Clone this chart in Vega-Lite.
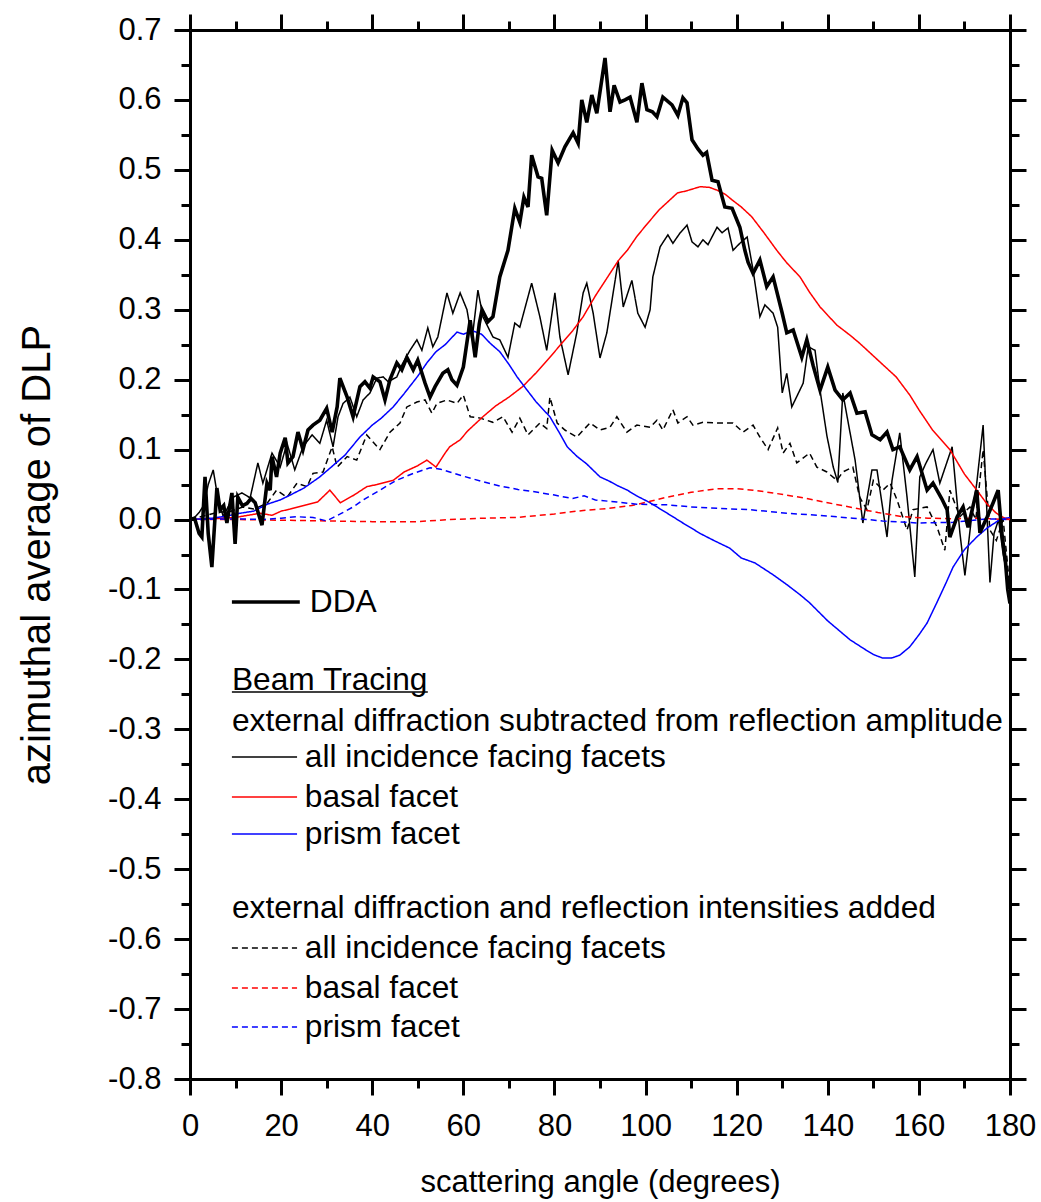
{
"$schema": "https://vega.github.io/schema/vega-lite/v6.json",
"width": 820, "height": 1049,
"autosize": {"type": "none"},
"padding": {"left": 190, "top": 30, "right": 31, "bottom": 123},
"background": "white",
"config": {"view": {"stroke": null}, "font": "Liberation Sans",
 "axis": {"domainColor": "black", "domainWidth": 3, "tickColor": "black", "tickWidth": 3, "labelColor": "black", "labelFont": "Liberation Sans", "labelFontSize": 31, "titleFont": "Liberation Sans", "titleFontSize": 31, "titleFontWeight": "normal", "titleColor": "black", "grid": false, "labelOverlap": false, "labelFlush": false}},
"datasets": {
"curves": [
{"s":"DDA","x":0,"y":0},{"s":"DDA","x":1,"y":0.002},{"s":"DDA","x":2,"y":-0.02},{"s":"DDA","x":2.6,"y":-0.025},{"s":"DDA","x":3.3,"y":0.061},{"s":"DDA","x":4.0,"y":-0.02},{"s":"DDA","x":4.8,"y":-0.068},{"s":"DDA","x":5.9,"y":0.045},{"s":"DDA","x":6.6,"y":0.014},{"s":"DDA","x":7.4,"y":0.02},{"s":"DDA","x":8.1,"y":-0.005},{"s":"DDA","x":9.2,"y":0.038},{"s":"DDA","x":9.9,"y":-0.035},{"s":"DDA","x":10.5,"y":0.032},{"s":"DDA","x":11.5,"y":0.02},{"s":"DDA","x":12.5,"y":0.023},{"s":"DDA","x":13.4,"y":0.03},{"s":"DDA","x":14.3,"y":0.024},{"s":"DDA","x":15.8,"y":-0.008},{"s":"DDA","x":16.9,"y":0.052},{"s":"DDA","x":17.6,"y":0.042},{"s":"DDA","x":18,"y":0.09},{"s":"DDA","x":19,"y":0.061},{"s":"DDA","x":19.8,"y":0.095},{"s":"DDA","x":20.9,"y":0.117},{"s":"DDA","x":21.5,"y":0.081},{"s":"DDA","x":22.6,"y":0.09},{"s":"DDA","x":23.7,"y":0.125},{"s":"DDA","x":24.8,"y":0.1},{"s":"DDA","x":25.9,"y":0.128},{"s":"DDA","x":27,"y":0.135},{"s":"DDA","x":28.5,"y":0.142},{"s":"DDA","x":30,"y":0.159},{"s":"DDA","x":31.2,"y":0.125},{"s":"DDA","x":32.3,"y":0.161},{"s":"DDA","x":32.9,"y":0.202},{"s":"DDA","x":34.5,"y":0.175},{"s":"DDA","x":35.8,"y":0.147},{"s":"DDA","x":37.3,"y":0.19},{"s":"DDA","x":38.4,"y":0.197},{"s":"DDA","x":39.5,"y":0.188},{"s":"DDA","x":40.2,"y":0.204},{"s":"DDA","x":41.7,"y":0.197},{"s":"DDA","x":42.8,"y":0.171},{"s":"DDA","x":43.9,"y":0.2},{"s":"DDA","x":45.4,"y":0.224},{"s":"DDA","x":46.5,"y":0.214},{"s":"DDA","x":47.6,"y":0.232},{"s":"DDA","x":49,"y":0.214},{"s":"DDA","x":50,"y":0.228},{"s":"DDA","x":51.6,"y":0.195},{"s":"DDA","x":52.7,"y":0.175},{"s":"DDA","x":53.8,"y":0.19},{"s":"DDA","x":55.5,"y":0.209},{"s":"DDA","x":56.6,"y":0.214},{"s":"DDA","x":57.5,"y":0.2},{"s":"DDA","x":58.6,"y":0.192},{"s":"DDA","x":60,"y":0.218},{"s":"DDA","x":61.5,"y":0.285},{"s":"DDA","x":62.6,"y":0.232},{"s":"DDA","x":63.5,"y":0.28},{"s":"DDA","x":64.1,"y":0.3},{"s":"DDA","x":65.4,"y":0.283},{"s":"DDA","x":66.5,"y":0.29},{"s":"DDA","x":68,"y":0.347},{"s":"DDA","x":69.8,"y":0.385},{"s":"DDA","x":71.3,"y":0.445},{"s":"DDA","x":72.4,"y":0.425},{"s":"DDA","x":73.3,"y":0.461},{"s":"DDA","x":74.2,"y":0.447},{"s":"DDA","x":75,"y":0.521},{"s":"DDA","x":76.4,"y":0.49},{"s":"DDA","x":77.2,"y":0.488},{"s":"DDA","x":78.3,"y":0.435},{"s":"DDA","x":79.5,"y":0.528},{"s":"DDA","x":80.8,"y":0.51},{"s":"DDA","x":82.3,"y":0.533},{"s":"DDA","x":84.1,"y":0.553},{"s":"DDA","x":85.2,"y":0.538},{"s":"DDA","x":86,"y":0.6},{"s":"DDA","x":87.1,"y":0.568},{"s":"DDA","x":88.2,"y":0.607},{"s":"DDA","x":89.3,"y":0.581},{"s":"DDA","x":91.1,"y":0.66},{"s":"DDA","x":92.2,"y":0.583},{"s":"DDA","x":93.1,"y":0.621},{"s":"DDA","x":94.4,"y":0.597},{"s":"DDA","x":95.5,"y":0.6},{"s":"DDA","x":96.6,"y":0.604},{"s":"DDA","x":98.1,"y":0.568},{"s":"DDA","x":99.2,"y":0.624},{"s":"DDA","x":100.3,"y":0.586},{"s":"DDA","x":101.5,"y":0.583},{"s":"DDA","x":102.5,"y":0.576},{"s":"DDA","x":103.8,"y":0.604},{"s":"DDA","x":105.8,"y":0.593},{"s":"DDA","x":107.1,"y":0.578},{"s":"DDA","x":108.2,"y":0.603},{"s":"DDA","x":109.1,"y":0.596},{"s":"DDA","x":110.2,"y":0.543},{"s":"DDA","x":111.5,"y":0.53},{"s":"DDA","x":112.6,"y":0.521},{"s":"DDA","x":113.4,"y":0.525},{"s":"DDA","x":114.6,"y":0.485},{"s":"DDA","x":115.9,"y":0.483},{"s":"DDA","x":117.4,"y":0.447},{"s":"DDA","x":119,"y":0.445},{"s":"DDA","x":120.7,"y":0.418},{"s":"DDA","x":121.8,"y":0.385},{"s":"DDA","x":122.5,"y":0.368},{"s":"DDA","x":123.6,"y":0.352},{"s":"DDA","x":125.1,"y":0.371},{"s":"DDA","x":126.6,"y":0.333},{"s":"DDA","x":128,"y":0.347},{"s":"DDA","x":130,"y":0.295},{"s":"DDA","x":131,"y":0.267},{"s":"DDA","x":132.4,"y":0.271},{"s":"DDA","x":134.3,"y":0.232},{"s":"DDA","x":135.4,"y":0.257},{"s":"DDA","x":136.8,"y":0.22},{"s":"DDA","x":138.3,"y":0.185},{"s":"DDA","x":140,"y":0.218},{"s":"DDA","x":141.6,"y":0.185},{"s":"DDA","x":143.3,"y":0.171},{"s":"DDA","x":144.9,"y":0.181},{"s":"DDA","x":146.4,"y":0.152},{"s":"DDA","x":148.2,"y":0.154},{"s":"DDA","x":149.7,"y":0.121},{"s":"DDA","x":151.5,"y":0.114},{"s":"DDA","x":153,"y":0.125},{"s":"DDA","x":154.3,"y":0.1},{"s":"DDA","x":155.8,"y":0.104},{"s":"DDA","x":158,"y":0.071},{"s":"DDA","x":159.6,"y":0.09},{"s":"DDA","x":161.8,"y":0.042},{"s":"DDA","x":163.1,"y":0.052},{"s":"DDA","x":165,"y":0.03},{"s":"DDA","x":166.2,"y":0.014},{"s":"DDA","x":166.8,"y":-0.025},{"s":"DDA","x":168.4,"y":0.004},{"s":"DDA","x":169.7,"y":0.018},{"s":"DDA","x":170.8,"y":-0.011},{"s":"DDA","x":172.7,"y":0.042},{"s":"DDA","x":173.4,"y":-0.019},{"s":"DDA","x":175,"y":0.004},{"s":"DDA","x":176.3,"y":0.024},{"s":"DDA","x":177.4,"y":0.042},{"s":"DDA","x":178.2,"y":-0.019},{"s":"DDA","x":179,"y":-0.06},{"s":"DDA","x":179.5,"y":-0.1},{"s":"DDA","x":180,"y":-0.12},
{"s":"all_sub","x":0,"y":0},{"s":"all_sub","x":1,"y":0.003},{"s":"all_sub","x":2,"y":0.01},{"s":"all_sub","x":3,"y":0.02},{"s":"all_sub","x":4,"y":0.05},{"s":"all_sub","x":5.1,"y":0.071},{"s":"all_sub","x":6,"y":0.035},{"s":"all_sub","x":7.3,"y":0.004},{"s":"all_sub","x":8.5,"y":0.02},{"s":"all_sub","x":9.5,"y":0.032},{"s":"all_sub","x":11.4,"y":0.038},{"s":"all_sub","x":13.2,"y":0.031},{"s":"all_sub","x":14.9,"y":0.081},{"s":"all_sub","x":16,"y":0.052},{"s":"all_sub","x":18,"y":0.095},{"s":"all_sub","x":19.8,"y":0.075},{"s":"all_sub","x":21.3,"y":0.109},{"s":"all_sub","x":23,"y":0.071},{"s":"all_sub","x":24.8,"y":0.104},{"s":"all_sub","x":26.8,"y":0.121},{"s":"all_sub","x":28.5,"y":0.109},{"s":"all_sub","x":30,"y":0.142},{"s":"all_sub","x":31.4,"y":0.104},{"s":"all_sub","x":32.5,"y":0.147},{"s":"all_sub","x":33.6,"y":0.166},{"s":"all_sub","x":35.1,"y":0.175},{"s":"all_sub","x":36.6,"y":0.147},{"s":"all_sub","x":38,"y":0.171},{"s":"all_sub","x":39.5,"y":0.181},{"s":"all_sub","x":41,"y":0.202},{"s":"all_sub","x":42.4,"y":0.204},{"s":"all_sub","x":43.5,"y":0.197},{"s":"all_sub","x":45.4,"y":0.204},{"s":"all_sub","x":46.5,"y":0.221},{"s":"all_sub","x":48.3,"y":0.242},{"s":"all_sub","x":49.8,"y":0.257},{"s":"all_sub","x":50.9,"y":0.242},{"s":"all_sub","x":52.2,"y":0.274},{"s":"all_sub","x":53.3,"y":0.247},{"s":"all_sub","x":54.4,"y":0.261},{"s":"all_sub","x":56.4,"y":0.324},{"s":"all_sub","x":57.7,"y":0.295},{"s":"all_sub","x":59.3,"y":0.324},{"s":"all_sub","x":60.8,"y":0.3},{"s":"all_sub","x":61.9,"y":0.257},{"s":"all_sub","x":63.2,"y":0.328},{"s":"all_sub","x":64.3,"y":0.29},{"s":"all_sub","x":66.5,"y":0.261},{"s":"all_sub","x":68,"y":0.257},{"s":"all_sub","x":69.8,"y":0.232},{"s":"all_sub","x":71.3,"y":0.281},{"s":"all_sub","x":72.4,"y":0.275},{"s":"all_sub","x":75,"y":0.338},{"s":"all_sub","x":76.8,"y":0.29},{"s":"all_sub","x":78.3,"y":0.242},{"s":"all_sub","x":80.1,"y":0.324},{"s":"all_sub","x":81.2,"y":0.261},{"s":"all_sub","x":83,"y":0.207},{"s":"all_sub","x":84.9,"y":0.267},{"s":"all_sub","x":86.3,"y":0.324},{"s":"all_sub","x":87.1,"y":0.338},{"s":"all_sub","x":88.5,"y":0.295},{"s":"all_sub","x":90,"y":0.231},{"s":"all_sub","x":91.5,"y":0.267},{"s":"all_sub","x":94,"y":0.37},{"s":"all_sub","x":95.1,"y":0.304},{"s":"all_sub","x":97,"y":0.342},{"s":"all_sub","x":98.3,"y":0.295},{"s":"all_sub","x":99.9,"y":0.275},{"s":"all_sub","x":101,"y":0.3},{"s":"all_sub","x":101.6,"y":0.347},{"s":"all_sub","x":103.2,"y":0.39},{"s":"all_sub","x":104.9,"y":0.407},{"s":"all_sub","x":106,"y":0.395},{"s":"all_sub","x":107.6,"y":0.41},{"s":"all_sub","x":109.1,"y":0.421},{"s":"all_sub","x":110.2,"y":0.397},{"s":"all_sub","x":111.5,"y":0.39},{"s":"all_sub","x":112.6,"y":0.4},{"s":"all_sub","x":113.7,"y":0.393},{"s":"all_sub","x":115.7,"y":0.418},{"s":"all_sub","x":116.8,"y":0.41},{"s":"all_sub","x":118.1,"y":0.417},{"s":"all_sub","x":119.2,"y":0.385},{"s":"all_sub","x":120.7,"y":0.395},{"s":"all_sub","x":122.3,"y":0.404},{"s":"all_sub","x":123.6,"y":0.357},{"s":"all_sub","x":125.1,"y":0.29},{"s":"all_sub","x":126.2,"y":0.307},{"s":"all_sub","x":128,"y":0.295},{"s":"all_sub","x":129,"y":0.275},{"s":"all_sub","x":130,"y":0.181},{"s":"all_sub","x":131,"y":0.209},{"s":"all_sub","x":132.1,"y":0.161},{"s":"all_sub","x":134.6,"y":0.195},{"s":"all_sub","x":135.7,"y":0.247},{"s":"all_sub","x":137.2,"y":0.242},{"s":"all_sub","x":138.3,"y":0.185},{"s":"all_sub","x":139.8,"y":0.12},{"s":"all_sub","x":141.2,"y":0.075},{"s":"all_sub","x":142.2,"y":0.053},{"s":"all_sub","x":143.3,"y":0.181},{"s":"all_sub","x":144.5,"y":0.138},{"s":"all_sub","x":146,"y":0.085},{"s":"all_sub","x":147.7,"y":-0.005},{"s":"all_sub","x":149.7,"y":0.071},{"s":"all_sub","x":150.8,"y":0.071},{"s":"all_sub","x":153,"y":-0.025},{"s":"all_sub","x":154.1,"y":0.056},{"s":"all_sub","x":155.8,"y":0.124},{"s":"all_sub","x":157.4,"y":0.032},{"s":"all_sub","x":159.1,"y":-0.082},{"s":"all_sub","x":160.2,"y":0.061},{"s":"all_sub","x":161.5,"y":0.08},{"s":"all_sub","x":163.1,"y":0.1},{"s":"all_sub","x":164.6,"y":0.052},{"s":"all_sub","x":167.3,"y":0.104},{"s":"all_sub","x":169,"y":-0.019},{"s":"all_sub","x":170.1,"y":-0.08},{"s":"all_sub","x":171.5,"y":0.0},{"s":"all_sub","x":172.7,"y":0.052},{"s":"all_sub","x":174.1,"y":0.135},{"s":"all_sub","x":175.6,"y":-0.09},{"s":"all_sub","x":176.5,"y":-0.02},{"s":"all_sub","x":177.5,"y":0.0},{"s":"all_sub","x":178.5,"y":-0.05},{"s":"all_sub","x":180,"y":-0.1},
{"s":"all_add","x":0,"y":0},{"s":"all_add","x":3,"y":0.005},{"s":"all_add","x":6,"y":0.01},{"s":"all_add","x":9,"y":0.012},{"s":"all_add","x":11.6,"y":0.018},{"s":"all_add","x":14,"y":0.015},{"s":"all_add","x":16.9,"y":0.023},{"s":"all_add","x":19,"y":0.042},{"s":"all_add","x":21.3,"y":0.032},{"s":"all_add","x":23.5,"y":0.052},{"s":"all_add","x":25.7,"y":0.047},{"s":"all_add","x":27,"y":0.066},{"s":"all_add","x":29.2,"y":0.068},{"s":"all_add","x":31.2,"y":0.104},{"s":"all_add","x":32.3,"y":0.075},{"s":"all_add","x":34.5,"y":0.09},{"s":"all_add","x":36.6,"y":0.085},{"s":"all_add","x":38.8,"y":0.121},{"s":"all_add","x":41.7,"y":0.1},{"s":"all_add","x":43.9,"y":0.125},{"s":"all_add","x":46.1,"y":0.138},{"s":"all_add","x":47.6,"y":0.161},{"s":"all_add","x":49.8,"y":0.168},{"s":"all_add","x":51.6,"y":0.171},{"s":"all_add","x":53.1,"y":0.152},{"s":"all_add","x":54.2,"y":0.166},{"s":"all_add","x":56.4,"y":0.171},{"s":"all_add","x":58.6,"y":0.166},{"s":"all_add","x":60,"y":0.178},{"s":"all_add","x":61.5,"y":0.147},{"s":"all_add","x":63.7,"y":0.145},{"s":"all_add","x":66.5,"y":0.139},{"s":"all_add","x":68.7,"y":0.147},{"s":"all_add","x":70.7,"y":0.125},{"s":"all_add","x":72.4,"y":0.145},{"s":"all_add","x":74.2,"y":0.121},{"s":"all_add","x":76.8,"y":0.138},{"s":"all_add","x":78.3,"y":0.13},{"s":"all_add","x":79,"y":0.175},{"s":"all_add","x":80.6,"y":0.138},{"s":"all_add","x":82.3,"y":0.128},{"s":"all_add","x":84.9,"y":0.118},{"s":"all_add","x":87.8,"y":0.138},{"s":"all_add","x":90,"y":0.128},{"s":"all_add","x":92.2,"y":0.132},{"s":"all_add","x":93.7,"y":0.147},{"s":"all_add","x":95.9,"y":0.125},{"s":"all_add","x":98.1,"y":0.135},{"s":"all_add","x":101,"y":0.132},{"s":"all_add","x":102.5,"y":0.142},{"s":"all_add","x":103.8,"y":0.128},{"s":"all_add","x":106,"y":0.157},{"s":"all_add","x":107.1,"y":0.138},{"s":"all_add","x":109.1,"y":0.147},{"s":"all_add","x":110.4,"y":0.135},{"s":"all_add","x":112.6,"y":0.139},{"s":"all_add","x":115.7,"y":0.138},{"s":"all_add","x":119.2,"y":0.138},{"s":"all_add","x":121.4,"y":0.125},{"s":"all_add","x":123.6,"y":0.135},{"s":"all_add","x":125.1,"y":0.118},{"s":"all_add","x":126.9,"y":0.1},{"s":"all_add","x":129,"y":0.131},{"s":"all_add","x":130.2,"y":0.095},{"s":"all_add","x":131.7,"y":0.109},{"s":"all_add","x":133.2,"y":0.081},{"s":"all_add","x":136,"y":0.095},{"s":"all_add","x":137.6,"y":0.075},{"s":"all_add","x":139.8,"y":0.068},{"s":"all_add","x":142,"y":0.056},{"s":"all_add","x":143.3,"y":0.068},{"s":"all_add","x":145.5,"y":0.075},{"s":"all_add","x":147,"y":0.032},{"s":"all_add","x":148.6,"y":0.014},{"s":"all_add","x":150,"y":0.056},{"s":"all_add","x":152.1,"y":0.042},{"s":"all_add","x":153.7,"y":0.052},{"s":"all_add","x":155.2,"y":0.028},{"s":"all_add","x":157.4,"y":-0.015},{"s":"all_add","x":158.7,"y":0.014},{"s":"all_add","x":161.8,"y":0.018},{"s":"all_add","x":164,"y":-0.011},{"s":"all_add","x":165.7,"y":-0.044},{"s":"all_add","x":166.8,"y":0.042},{"s":"all_add","x":169,"y":0.004},{"s":"all_add","x":171.2,"y":0.018},{"s":"all_add","x":172.5,"y":0.0},{"s":"all_add","x":174.1,"y":0.1},{"s":"all_add","x":175.6,"y":-0.015},{"s":"all_add","x":177,"y":-0.03},{"s":"all_add","x":178.5,"y":0.0},{"s":"all_add","x":180,"y":-0.1},
{"s":"basal_sub","x":0,"y":0},{"s":"basal_sub","x":5,"y":0.001},{"s":"basal_sub","x":10,"y":0.003},{"s":"basal_sub","x":15.4,"y":0.009},{"s":"basal_sub","x":18,"y":0.006},{"s":"basal_sub","x":20,"y":0.012},{"s":"basal_sub","x":22,"y":0.015},{"s":"basal_sub","x":25,"y":0.02},{"s":"basal_sub","x":28,"y":0.025},{"s":"basal_sub","x":30.7,"y":0.042},{"s":"basal_sub","x":33,"y":0.024},{"s":"basal_sub","x":36,"y":0.035},{"s":"basal_sub","x":38.8,"y":0.047},{"s":"basal_sub","x":41,"y":0.05},{"s":"basal_sub","x":44.6,"y":0.056},{"s":"basal_sub","x":47,"y":0.068},{"s":"basal_sub","x":50,"y":0.077},{"s":"basal_sub","x":52,"y":0.085},{"s":"basal_sub","x":54,"y":0.075},{"s":"basal_sub","x":56,"y":0.095},{"s":"basal_sub","x":57,"y":0.104},{"s":"basal_sub","x":59.3,"y":0.114},{"s":"basal_sub","x":61,"y":0.127},{"s":"basal_sub","x":64.3,"y":0.147},{"s":"basal_sub","x":67,"y":0.162},{"s":"basal_sub","x":70,"y":0.175},{"s":"basal_sub","x":73,"y":0.19},{"s":"basal_sub","x":76,"y":0.21},{"s":"basal_sub","x":79,"y":0.232},{"s":"basal_sub","x":82,"y":0.255},{"s":"basal_sub","x":84,"y":0.27},{"s":"basal_sub","x":86.3,"y":0.29},{"s":"basal_sub","x":89,"y":0.32},{"s":"basal_sub","x":92.2,"y":0.352},{"s":"basal_sub","x":94,"y":0.37},{"s":"basal_sub","x":96,"y":0.385},{"s":"basal_sub","x":98,"y":0.404},{"s":"basal_sub","x":100,"y":0.42},{"s":"basal_sub","x":103,"y":0.443},{"s":"basal_sub","x":105,"y":0.455},{"s":"basal_sub","x":107,"y":0.467},{"s":"basal_sub","x":109,"y":0.47},{"s":"basal_sub","x":112,"y":0.476},{"s":"basal_sub","x":114,"y":0.475},{"s":"basal_sub","x":115.7,"y":0.471},{"s":"basal_sub","x":117.5,"y":0.465},{"s":"basal_sub","x":119,"y":0.457},{"s":"basal_sub","x":121,"y":0.447},{"s":"basal_sub","x":123.3,"y":0.433},{"s":"basal_sub","x":126,"y":0.41},{"s":"basal_sub","x":128.8,"y":0.385},{"s":"basal_sub","x":131,"y":0.367},{"s":"basal_sub","x":133.9,"y":0.347},{"s":"basal_sub","x":136,"y":0.325},{"s":"basal_sub","x":138.3,"y":0.304},{"s":"basal_sub","x":142,"y":0.278},{"s":"basal_sub","x":145,"y":0.263},{"s":"basal_sub","x":147,"y":0.252},{"s":"basal_sub","x":151,"y":0.228},{"s":"basal_sub","x":155,"y":0.204},{"s":"basal_sub","x":158,"y":0.178},{"s":"basal_sub","x":160,"y":0.157},{"s":"basal_sub","x":163,"y":0.128},{"s":"basal_sub","x":166.8,"y":0.1},{"s":"basal_sub","x":170,"y":0.065},{"s":"basal_sub","x":172.7,"y":0.042},{"s":"basal_sub","x":175,"y":0.022},{"s":"basal_sub","x":177,"y":0.009},{"s":"basal_sub","x":178.5,"y":0.003},{"s":"basal_sub","x":180,"y":0.0},
{"s":"prism_sub","x":0,"y":0},{"s":"prism_sub","x":5,"y":0.002},{"s":"prism_sub","x":8,"y":0.005},{"s":"prism_sub","x":11,"y":0.009},{"s":"prism_sub","x":14,"y":0.012},{"s":"prism_sub","x":17,"y":0.022},{"s":"prism_sub","x":19.8,"y":0.028},{"s":"prism_sub","x":22,"y":0.035},{"s":"prism_sub","x":25,"y":0.045},{"s":"prism_sub","x":28.5,"y":0.061},{"s":"prism_sub","x":31,"y":0.075},{"s":"prism_sub","x":34,"y":0.092},{"s":"prism_sub","x":37.3,"y":0.118},{"s":"prism_sub","x":40,"y":0.135},{"s":"prism_sub","x":42,"y":0.145},{"s":"prism_sub","x":44.6,"y":0.161},{"s":"prism_sub","x":47,"y":0.18},{"s":"prism_sub","x":50,"y":0.205},{"s":"prism_sub","x":52,"y":0.224},{"s":"prism_sub","x":54,"y":0.24},{"s":"prism_sub","x":56,"y":0.25},{"s":"prism_sub","x":58.6,"y":0.268},{"s":"prism_sub","x":60,"y":0.265},{"s":"prism_sub","x":62,"y":0.27},{"s":"prism_sub","x":64,"y":0.265},{"s":"prism_sub","x":65.9,"y":0.252},{"s":"prism_sub","x":68,"y":0.24},{"s":"prism_sub","x":70,"y":0.222},{"s":"prism_sub","x":71.8,"y":0.204},{"s":"prism_sub","x":74,"y":0.185},{"s":"prism_sub","x":76,"y":0.168},{"s":"prism_sub","x":79,"y":0.147},{"s":"prism_sub","x":81,"y":0.125},{"s":"prism_sub","x":82.8,"y":0.104},{"s":"prism_sub","x":85,"y":0.09},{"s":"prism_sub","x":87,"y":0.08},{"s":"prism_sub","x":90,"y":0.061},{"s":"prism_sub","x":92,"y":0.055},{"s":"prism_sub","x":94,"y":0.048},{"s":"prism_sub","x":96,"y":0.042},{"s":"prism_sub","x":98,"y":0.034},{"s":"prism_sub","x":101,"y":0.024},{"s":"prism_sub","x":104,"y":0.012},{"s":"prism_sub","x":106,"y":0.004},{"s":"prism_sub","x":108.2,"y":-0.005},{"s":"prism_sub","x":110,"y":-0.012},{"s":"prism_sub","x":112,"y":-0.02},{"s":"prism_sub","x":115,"y":-0.03},{"s":"prism_sub","x":118.5,"y":-0.041},{"s":"prism_sub","x":121,"y":-0.055},{"s":"prism_sub","x":124,"y":-0.062},{"s":"prism_sub","x":128,"y":-0.079},{"s":"prism_sub","x":131,"y":-0.093},{"s":"prism_sub","x":134,"y":-0.108},{"s":"prism_sub","x":136,"y":-0.119},{"s":"prism_sub","x":140,"y":-0.145},{"s":"prism_sub","x":144.9,"y":-0.172},{"s":"prism_sub","x":148,"y":-0.185},{"s":"prism_sub","x":150,"y":-0.193},{"s":"prism_sub","x":152,"y":-0.198},{"s":"prism_sub","x":154,"y":-0.198},{"s":"prism_sub","x":155.8,"y":-0.194},{"s":"prism_sub","x":158,"y":-0.182},{"s":"prism_sub","x":160,"y":-0.165},{"s":"prism_sub","x":161.8,"y":-0.148},{"s":"prism_sub","x":164,"y":-0.118},{"s":"prism_sub","x":166,"y":-0.09},{"s":"prism_sub","x":167.5,"y":-0.068},{"s":"prism_sub","x":170,"y":-0.043},{"s":"prism_sub","x":172.7,"y":-0.025},{"s":"prism_sub","x":175,"y":-0.012},{"s":"prism_sub","x":177.8,"y":0.0},{"s":"prism_sub","x":180,"y":0.003},
{"s":"basal_add","x":0,"y":0},{"s":"basal_add","x":10,"y":0.0},{"s":"basal_add","x":20,"y":-0.001},{"s":"basal_add","x":30,"y":-0.002},{"s":"basal_add","x":40,"y":-0.003},{"s":"basal_add","x":50,"y":-0.003},{"s":"basal_add","x":57,"y":0.0},{"s":"basal_add","x":65,"y":0.002},{"s":"basal_add","x":71.8,"y":0.003},{"s":"basal_add","x":80,"y":0.008},{"s":"basal_add","x":86.3,"y":0.013},{"s":"basal_add","x":92,"y":0.016},{"s":"basal_add","x":97,"y":0.02},{"s":"basal_add","x":101,"y":0.026},{"s":"basal_add","x":104.7,"y":0.032},{"s":"basal_add","x":110,"y":0.039},{"s":"basal_add","x":115.7,"y":0.044},{"s":"basal_add","x":120,"y":0.044},{"s":"basal_add","x":123.6,"y":0.042},{"s":"basal_add","x":128,"y":0.038},{"s":"basal_add","x":134.6,"y":0.031},{"s":"basal_add","x":140,"y":0.024},{"s":"basal_add","x":145.5,"y":0.017},{"s":"basal_add","x":151,"y":0.01},{"s":"basal_add","x":156.5,"y":0.004},{"s":"basal_add","x":162,"y":0.002},{"s":"basal_add","x":167.5,"y":0.001},{"s":"basal_add","x":173,"y":0.002},{"s":"basal_add","x":180,"y":0.0},
{"s":"prism_add","x":0,"y":0},{"s":"prism_add","x":10,"y":0.001},{"s":"prism_add","x":16,"y":0.0},{"s":"prism_add","x":20,"y":0.002},{"s":"prism_add","x":23.4,"y":0.004},{"s":"prism_add","x":27,"y":0.003},{"s":"prism_add","x":30,"y":-0.002},{"s":"prism_add","x":33,"y":0.008},{"s":"prism_add","x":35.8,"y":0.018},{"s":"prism_add","x":38.5,"y":0.03},{"s":"prism_add","x":41.7,"y":0.042},{"s":"prism_add","x":45,"y":0.055},{"s":"prism_add","x":49,"y":0.066},{"s":"prism_add","x":52.7,"y":0.074},{"s":"prism_add","x":55,"y":0.072},{"s":"prism_add","x":57,"y":0.068},{"s":"prism_add","x":60,"y":0.062},{"s":"prism_add","x":64.3,"y":0.054},{"s":"prism_add","x":68,"y":0.048},{"s":"prism_add","x":72,"y":0.043},{"s":"prism_add","x":75.3,"y":0.04},{"s":"prism_add","x":80,"y":0.035},{"s":"prism_add","x":84,"y":0.03},{"s":"prism_add","x":86.5,"y":0.034},{"s":"prism_add","x":89,"y":0.028},{"s":"prism_add","x":93.7,"y":0.025},{"s":"prism_add","x":98,"y":0.022},{"s":"prism_add","x":104.7,"y":0.021},{"s":"prism_add","x":110,"y":0.018},{"s":"prism_add","x":115.7,"y":0.016},{"s":"prism_add","x":123,"y":0.014},{"s":"prism_add","x":131,"y":0.009},{"s":"prism_add","x":138,"y":0.006},{"s":"prism_add","x":145.5,"y":0.002},{"s":"prism_add","x":152,"y":-0.002},{"s":"prism_add","x":160,"y":-0.005},{"s":"prism_add","x":167.5,"y":-0.004},{"s":"prism_add","x":175,"y":0.001},{"s":"prism_add","x":180,"y":0.0}
],
"legend": [{"s":"DDA","x":9.2,"x2":24.1,"y":-0.118},{"s":"all_sub","x":9.2,"x2":23.5,"y":-0.3396},{"s":"basal_sub","x":9.2,"x2":23.5,"y":-0.3968},{"s":"prism_sub","x":9.2,"x2":23.5,"y":-0.4497},{"s":"all_add","x":9.2,"x2":23.5,"y":-0.6127},{"s":"basal_add","x":9.2,"x2":23.5,"y":-0.6699},{"s":"prism_add","x":9.2,"x2":23.5,"y":-0.7257}],
"texts": [{"t":"DDA","x":26.3,"y":-0.118},{"t":"Beam Tracing","x":9.2,"y":-0.2295},{"t":"external diffraction subtracted from reflection amplitude","x":9.2,"y":-0.2881},{"t":"all incidence facing facets","x":25.2,"y":-0.3396},{"t":"basal facet","x":25.2,"y":-0.3968},{"t":"prism facet","x":25.2,"y":-0.4497},{"t":"external diffraction and reflection intensities added","x":9.2,"y":-0.5555},{"t":"all incidence facing facets","x":25.2,"y":-0.6127},{"t":"basal facet","x":25.2,"y":-0.6699},{"t":"prism facet","x":25.2,"y":-0.7257}],
"underline": [{"x":9.2,"x2":52.2,"y":-0.2466}],
"corners": [{"x":0,"y":-0.8},{"x":180,"y":0.7}]
},
"layer": [
 {"data": {"name": "curves"}, "transform": [{"filter": "datum.s !== 'DDA'"}],
  "mark": {"type": "line", "strokeWidth": 1.5},
  "encoding": {
   "x": {"field": "x", "type": "quantitative", "scale": {"domain": [0, 180], "nice": false},
     "axis": {"orient": "bottom", "values": [0,10,20,30,40,50,60,70,80,90,100,110,120,130,140,150,160,170,180], "labelExpr": "datum.value % 20 === 0 ? datum.label : ''", "tickSize": {"condition": {"test": "datum.value % 20 === 0", "value": 16}, "value": 9}, "labelPadding": 16, "title": "scattering angle (degrees)", "titlePadding": 26}},
   "y": {"field": "y", "type": "quantitative", "scale": {"domain": [-0.8, 0.7], "nice": false},
     "axis": {"orient": "left", "values": [-0.8,-0.75,-0.7,-0.65,-0.6,-0.55,-0.5,-0.45,-0.4,-0.35,-0.3,-0.25,-0.2,-0.15,-0.1,-0.05,0,0.05,0.1,0.15,0.2,0.25,0.3,0.35,0.4,0.45,0.5,0.55,0.6,0.65,0.7], "labelExpr": "abs(round(datum.value*20)) % 2 === 0 ? (datum.value < 0 ? '-' + format(-datum.value, '.1f') : format(datum.value, '.1f')) : ''", "tickSize": {"condition": {"test": "abs(round(datum.value*20)) % 2 === 0", "value": 16}, "value": 9}, "labelPadding": 13, "title": "azimuthal average of DLP", "titleFontSize": 40, "titlePadding": 50}},
   "color": {"field": "s", "type": "nominal", "scale": {"domain": ["all_sub","basal_sub","prism_sub","all_add","basal_add","prism_add"], "range": ["#000000","#ff0000","#0000ff","#000000","#ff0000","#0000ff"]}, "legend": null},
   "strokeDash": {"field": "s", "type": "nominal", "scale": {"domain": ["all_sub","basal_sub","prism_sub","all_add","basal_add","prism_add"], "range": [[1,0],[1,0],[1,0],[6,4],[6,4],[6,4]]}, "legend": null}
  }},
 {"data": {"name": "curves"}, "transform": [{"filter": "datum.s === 'DDA'"}],
  "mark": {"type": "line", "strokeWidth": 3.6, "color": "black"},
  "encoding": {"x": {"field": "x", "type": "quantitative", "axis": null}, "y": {"field": "y", "type": "quantitative", "axis": null}}},
 {"data": {"name": "legend"}, "transform": [{"filter": "datum.s !== 'DDA'"}],
  "mark": {"type": "rule", "strokeWidth": 1.5},
  "encoding": {"x": {"field": "x", "type": "quantitative", "axis": null}, "x2": {"field": "x2"}, "y": {"field": "y", "type": "quantitative", "axis": null},
   "color": {"field": "s", "type": "nominal", "scale": {"domain": ["all_sub","basal_sub","prism_sub","all_add","basal_add","prism_add"], "range": ["#000000","#ff0000","#0000ff","#000000","#ff0000","#0000ff"]}, "legend": null},
   "strokeDash": {"field": "s", "type": "nominal", "scale": {"domain": ["all_sub","basal_sub","prism_sub","all_add","basal_add","prism_add"], "range": [[1,0],[1,0],[1,0],[6,4],[6,4],[6,4]]}, "legend": null}}},
 {"data": {"name": "legend"}, "transform": [{"filter": "datum.s === 'DDA'"}],
  "mark": {"type": "rule", "strokeWidth": 3.6, "color": "black"},
  "encoding": {"x": {"field": "x", "type": "quantitative", "axis": null}, "x2": {"field": "x2"}, "y": {"field": "y", "type": "quantitative", "axis": null}}},
 {"data": {"name": "underline"},
  "mark": {"type": "rule", "strokeWidth": 1.5, "color": "black"},
  "encoding": {"x": {"field": "x", "type": "quantitative", "axis": null}, "x2": {"field": "x2"}, "y": {"field": "y", "type": "quantitative", "axis": null}}},
 {"data": {"name": "texts"},
  "mark": {"type": "text", "align": "left", "baseline": "middle", "font": "Liberation Sans", "fontSize": 31.7, "color": "black"},
  "encoding": {"x": {"field": "x", "type": "quantitative", "axis": null}, "y": {"field": "y", "type": "quantitative", "axis": null}, "text": {"field": "t", "type": "nominal"}}},
 {"data": {"name": "corners"},
  "mark": {"type": "point", "opacity": 0},
  "encoding": {
   "x": {"field": "x", "type": "quantitative", "axis": {"orient": "top", "values": [0,10,20,30,40,50,60,70,80,90,100,110,120,130,140,150,160,170,180], "labels": false, "title": null, "tickSize": {"condition": {"test": "datum.value % 20 === 0", "value": 16}, "value": 9}}},
   "y": {"field": "y", "type": "quantitative", "axis": {"orient": "right", "values": [-0.8,-0.75,-0.7,-0.65,-0.6,-0.55,-0.5,-0.45,-0.4,-0.35,-0.3,-0.25,-0.2,-0.15,-0.1,-0.05,0,0.05,0.1,0.15,0.2,0.25,0.3,0.35,0.4,0.45,0.5,0.55,0.6,0.65,0.7], "labels": false, "title": null, "tickSize": {"condition": {"test": "abs(round(datum.value*20)) % 2 === 0", "value": 16}, "value": 9}}}}}
],
"resolve": {"axis": {"x": "independent", "y": "independent"}}
}
